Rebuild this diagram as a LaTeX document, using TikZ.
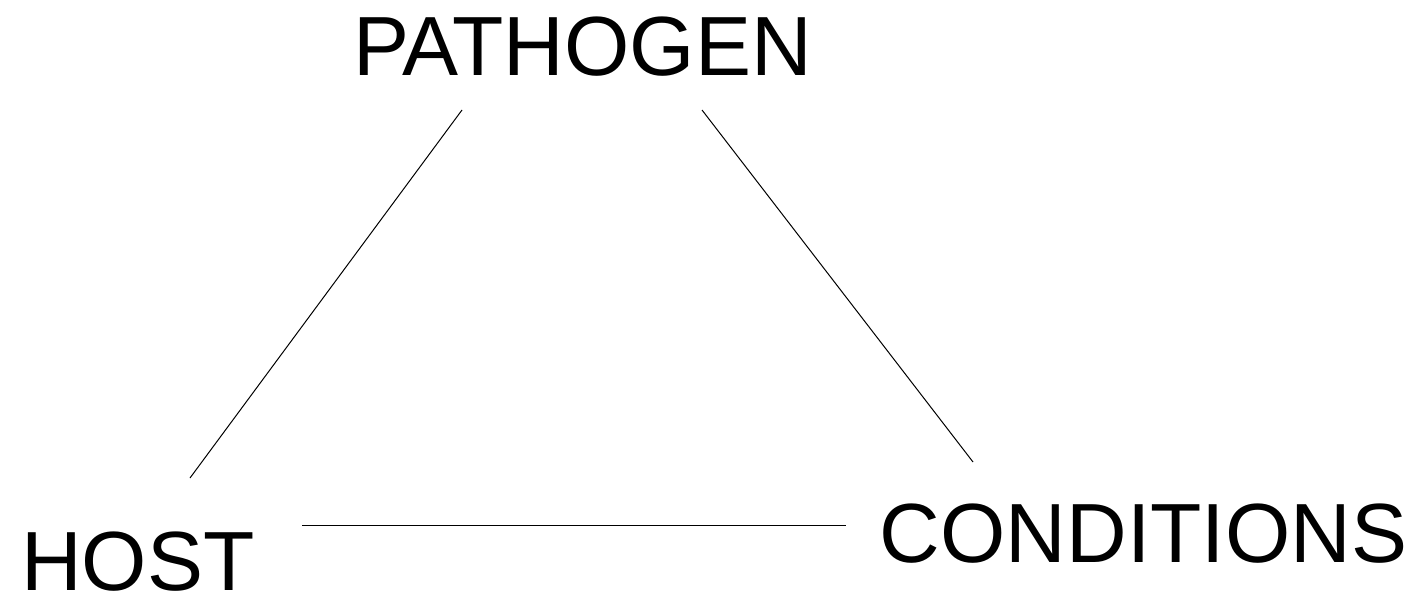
\documentclass[tikz,border=0pt]{standalone}
\usepackage{fontspec}
\setmainfont{Liberation Sans}
\usetikzlibrary{calc}

\begin{document}
\begin{tikzpicture}[x=1pt, y=-1pt,
    term/.style={inner sep=0pt, anchor=base, text depth=0pt, font=\fontsize{84}{90}\selectfont},
    link/.style={black, line width=1pt}]
  \useasboundingbox (0,0) rectangle (1425,596);
  % the three corners
  \node[term] (pathogen) at (582.5,76) {PATHOGEN};
  \node[term] (host) at (138,590) {HOST};
  \node[term] (conditions) at (1143.5,562) {CONDITIONS};
  % line ends
  \coordinate (pL) at (462,110);
  \coordinate (pR) at (702,110);
  \coordinate (hT) at (190,478);
  \coordinate (hR) at (302,525);
  \coordinate (cT) at (973,462);
  \coordinate (cL) at (846,525);
  \draw[link] (pL) -- (hT);
  \draw[link] (pR) -- (cT);
  \draw[link] (hR) -- (cL);
\end{tikzpicture}
\end{document}
